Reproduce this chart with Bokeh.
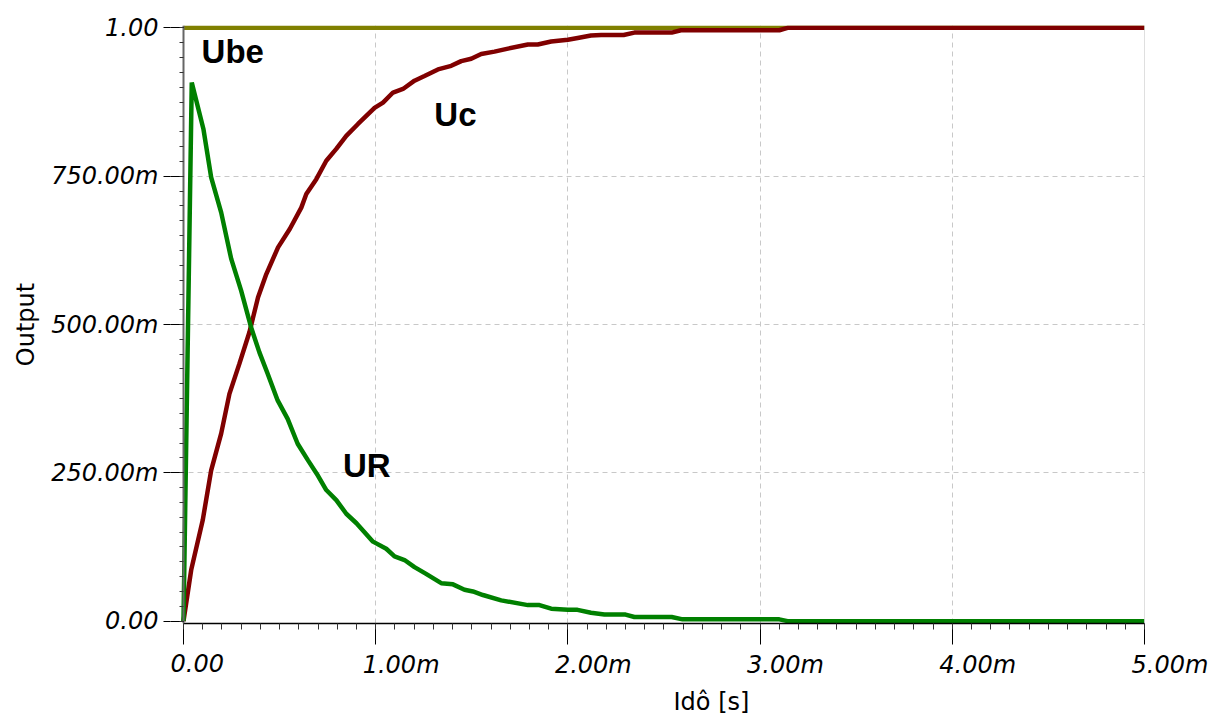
import numpy as np
from bokeh.plotting import figure
from bokeh.models import (FixedTicker, CustomJSTickFormatter, Range1d, Label,
                          LinearAxis, Title, Span)
from bokeh.embed import file_html
from bokeh.resources import INLINE

# ---- data (time in ms, values in V) ----
t_ube = [0.0, 5.0]
ube = [1.0, 1.0]

t_uc = [0.0, 0.040, 0.100, 0.144, 0.196, 0.239, 0.291, 0.343, 0.388, 0.431,
        0.492, 0.553, 0.613, 0.639, 0.691, 0.743, 0.795, 0.847, 0.908, 0.994,
        1.038, 1.090, 1.142, 1.202, 1.254, 1.324, 1.393, 1.445, 1.497, 1.549,
        1.618, 1.688, 1.792, 1.843, 1.913, 2.000, 2.051, 2.120, 2.173, 2.290,
        2.346, 2.540, 2.588, 3.100, 3.143, 5.000]
uc = [0.000, 0.086, 0.170, 0.254, 0.316, 0.383, 0.434, 0.487, 0.546, 0.585,
      0.630, 0.661, 0.697, 0.720, 0.745, 0.776, 0.796, 0.818, 0.838, 0.865,
      0.874, 0.891, 0.897, 0.911, 0.919, 0.930, 0.936, 0.944, 0.948, 0.956,
      0.960, 0.965, 0.972, 0.972, 0.977, 0.980, 0.983, 0.987, 0.988, 0.988,
      0.992, 0.992, 0.996, 0.996, 1.000, 1.000]

t_ur = [0.0, 0.043, 0.104, 0.144, 0.196, 0.248, 0.300, 0.352, 0.395, 0.438,
        0.490, 0.542, 0.594, 0.648, 0.700, 0.743, 0.795, 0.847, 0.900, 0.950,
        0.986, 1.055, 1.098, 1.150, 1.202, 1.260, 1.341, 1.402, 1.462, 1.506,
        1.558, 1.653, 1.792, 1.852, 1.913, 2.000, 2.050, 2.120, 2.190, 2.300,
        2.346, 2.540, 2.597, 3.100, 3.143, 5.000]
ur = [0.000, 0.908, 0.829, 0.748, 0.689, 0.611, 0.557, 0.495, 0.453, 0.417,
      0.372, 0.341, 0.299, 0.271, 0.245, 0.221, 0.204, 0.181, 0.165, 0.147,
      0.134, 0.122, 0.109, 0.103, 0.091, 0.080, 0.064, 0.062, 0.053, 0.050,
      0.044, 0.035, 0.027, 0.027, 0.021, 0.019, 0.019, 0.014, 0.011, 0.011,
      0.007, 0.007, 0.003, 0.003, 0.000, 0.000]

x_ticks = [0, 1, 2, 3, 4, 5]
y_ticks = [0, 0.25, 0.5, 0.75, 1.0]

# small left margin inside the frame so the first x label can start left of its tick
PAD = 13 / 192.4

p = figure(width=1217, height=718, output_backend="svg", toolbar_location=None,
           x_range=Range1d(-PAD, 5), y_range=Range1d(-0.004, 1.004),
           min_border_left=169, min_border_right=73, min_border_top=25,
           min_border_bottom=95, title=None)
p.background_fill_color = "white"
p.border_fill_color = "white"
p.outline_line_color = None
p.add_layout(Span(location=5, dimension="height", line_color="#c0c0c0", line_width=1))

xax = p.xaxis[0]
yax = p.yaxis[0]

# tickers
xax.ticker = FixedTicker(ticks=x_ticks, minor_ticks=list(np.round(np.arange(0, 5.0001, 0.1), 4)))
yax.ticker = FixedTicker(ticks=y_ticks, minor_ticks=list(np.round(np.arange(0, 1.0001, 0.025), 4)))
p.xgrid.ticker = FixedTicker(ticks=[1, 2, 3, 4])
p.ygrid.ticker = FixedTicker(ticks=[0.25, 0.5, 0.75])
for g in (p.xgrid, p.ygrid):
    g.grid_line_color = "#c8c8c8"
    g.grid_line_dash = "5 4"
    g.grid_line_width = 1

fmt_x = CustomJSTickFormatter(code="return tick == 0 ? '0.00' : tick.toFixed(2) + 'm';")
fmt_y = CustomJSTickFormatter(code="return (tick == 0 || tick == 1) ? tick.toFixed(2) : (tick*1000).toFixed(2) + 'm';")
blank = CustomJSTickFormatter(code="return '';")

for ax in (xax, yax):
    ax.major_tick_in = 0
    ax.minor_tick_in = 0
    ax.major_tick_line_color = "black"
    ax.minor_tick_line_color = "#333333"
    ax.formatter = blank
    ax.major_label_standoff = 0

# main x axis: line + tick marks only
xax.bounds = (0, 5)
xax.major_tick_out = 21
xax.minor_tick_out = 6
xax.axis_line_color = "black"
xax.axis_line_width = 1.5

# y axis line pinned at t = 0 (inside the frame)
yax.fixed_location = 0
yax.major_tick_out = 20
yax.minor_tick_out = 4
yax.axis_line_color = "#666666"
yax.axis_line_width = 2

# y tick labels (and outer part of the major ticks)
ylab = LinearAxis(ticker=FixedTicker(ticks=y_ticks), formatter=fmt_y,
                  axis_line_color=None, minor_tick_line_color=None,
                  major_tick_line_color="black", major_tick_out=7, major_tick_in=0,
                  minor_tick_out=0, minor_tick_in=0, major_label_standoff=5,
                  major_label_text_font="DejaVu Sans", major_label_text_font_style="italic",
                  major_label_text_font_size="24px", major_label_text_color="black")
p.add_layout(ylab, "left")

# x tick labels: left-aligned, starting slightly left of each tick
p.extra_x_ranges = {"lab": Range1d(0, 5 + PAD)}
lab = LinearAxis(x_range_name="lab", ticker=FixedTicker(ticks=x_ticks), formatter=fmt_x,
                 axis_line_color=None, major_tick_line_color=None, minor_tick_line_color=None,
                 major_tick_out=0, major_tick_in=0, minor_tick_out=0, minor_tick_in=0,
                 major_label_standoff=20, major_label_orientation=-1e-7,
                 major_label_text_font="DejaVu Sans",
                 major_label_text_font_style="italic", major_label_text_font_size="24px",
                 major_label_text_color="black")
p.add_layout(lab, "below")

# axis titles
p.add_layout(Title(text="Idô [s]", align="left", offset=503, standoff=-16,
                   vertical_align="top",
                   text_font="DejaVu Sans", text_font_size="24px",
                   text_font_style="normal", text_color="black"), "below")
p.add_layout(Title(text="Output", align="center", standoff=18,
                   text_font="DejaVu Sans", text_font_size="24px",
                   text_font_style="normal", text_color="black"), "left")

# curves
p.line(t_ube, ube, line_color="#808000", line_width=4.5)
p.line(t_uc, uc, line_color="#800000", line_width=4.5)
p.line(t_ur, ur, line_color="#008000", line_width=4.5)

# curve labels
for txt, xx, yy in (("Ube", 0.094, 0.960), ("Uc", 1.305, 0.854), ("UR", 0.83, 0.262)):
    p.add_layout(Label(x=xx, y=yy, text=txt, text_font="Liberation Sans",
                       text_font_style="bold", text_font_size="33px",
                       text_color="black", text_baseline="alphabetic"))

open("out.html", "w").write(file_html(p, INLINE))
